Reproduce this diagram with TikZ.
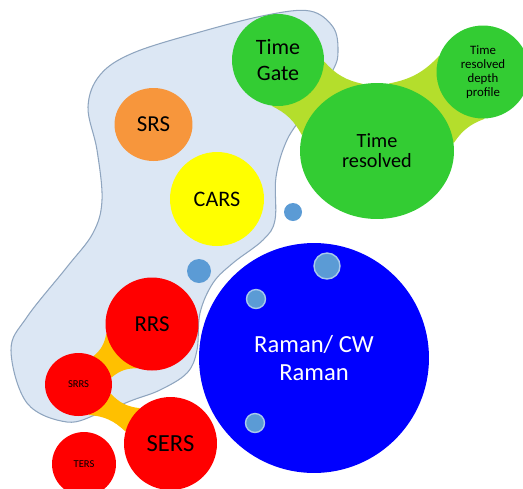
\documentclass[tikz,border=0pt]{standalone}
\usepackage{fontspec}
\setmainfont{Carlito}
\usetikzlibrary{backgrounds,shapes.geometric}

\definecolor{blobfill}{HTML}{DCE7F4}
\definecolor{blobline}{HTML}{8FA5BF}
\definecolor{timegreen}{HTML}{33CC33}
\definecolor{neckgreen}{HTML}{B4DE2C}
\definecolor{srsorange}{HTML}{F7963C}
\definecolor{carsyellow}{HTML}{FFFF00}
\definecolor{rrsred}{HTML}{FF0000}
\definecolor{neckorange}{HTML}{FFC000}
\definecolor{ramanblue}{HTML}{0000FF}
\definecolor{dotblue}{HTML}{5B9BD5}
\definecolor{dotrim}{HTML}{A8C9EC}

\begin{document}
\begin{tikzpicture}[
  x=0.02cm, y=-0.02cm,
  bubble/.style={circle, inner sep=0pt, align=center},
  oval/.style={ellipse, inner sep=0pt, align=center},
  dot/.style={circle, inner sep=0pt, fill=dotblue},
  rimdot/.style={dot, draw=dotrim, line width=0.8pt},
  neck/.style={fill=#1}
]
\useasboundingbox (0,0) rectangle (523,488);

% time-resolved group
\node[bubble, fill=timegreen, minimum size=1.84cm, font=\fontsize{12.5}{14.5}\selectfont] (timegate) at (278,60) {Time\\Gate};
\node[oval, fill=timegreen, minimum width=3.08cm, minimum height=2.72cm, font=\fontsize{11.5}{11.5}\selectfont] (timeres) at (377,151) {Time\\resolved};
\node[bubble, fill=timegreen, minimum size=1.86cm, font=\fontsize{7.3}{7.9}\selectfont] (depth) at (483,72) {Time\\resolved\\depth\\profile};

% nonlinear techniques
\node[oval, fill=srsorange, minimum width=1.56cm, minimum height=1.46cm, font=\fontsize{13}{15}\selectfont] (srs) at (153.5,124.5) {SRS};
\node[bubble, fill=carsyellow, minimum size=1.88cm, font=\fontsize{12.6}{15}\selectfont] (cars) at (217,199) {CARS};

% main technique
\node[bubble, fill=ramanblue, minimum size=4.6cm, text=white, font=\fontsize{14}{16}\selectfont] (raman) at (314,358) {Raman/ CW\\Raman};

% resonance / enhanced
\node[bubble, fill=rrsred, minimum size=1.86cm, font=\fontsize{13}{15}\selectfont] (rrs) at (152,324) {RRS};
\node[oval, fill=rrsred, minimum width=1.34cm, minimum height=1.26cm, font=\fontsize{6}{7}\selectfont] (srrs) at (78.5,384.5) {SRRS};
\node[bubble, fill=rrsred, minimum size=1.86cm, font=\fontsize{14}{16}\selectfont] (sers) at (170.5,443.5) {SERS};
\node[bubble, fill=rrsred, minimum size=1.28cm, font=\fontsize{6}{7}\selectfont] (ters) at (84,464) {TERS};

% small dots
\node[dot, minimum size=0.36cm] (dota) at (293,212) {};
\node[dot, minimum size=0.48cm] (dotb) at (199,271) {};
\node[rimdot, minimum size=0.52cm] (dotc) at (327,266) {};
\node[rimdot, minimum size=0.38cm] (dotd) at (256,299) {};
\node[rimdot, minimum size=0.38cm] (dote) at (255,423) {};

\begin{scope}[on background layer]
  % grouping area
  \draw[blobline, fill=blobfill, line width=0.6pt] plot[smooth cycle, tension=0.6] coordinates {
    (310,11) (333,27) (338,50) (333,70) (307,110) (287,140) (276,177)
    (275,220) (263,240) (233,263) (213,283) (200,313) (197,350) (187,373)
    (160,390) (133,400) (100,413) (67,422) (27,403) (11,350) (27,317)
    (67,267) (93,233) (102,200) (97,150) (88,107) (100,75) (133,53)
    (200,32) (267,15)};

  % necks
  \fill[neck=neckgreen] (timegate.262) to[bend left=18] (timeres.168) -- (timeres.102) to[bend left=18] (timegate.358) -- cycle;
  \fill[neck=neckgreen] (timeres.6) to[bend left=18] (depth.272) -- (depth.160) to[bend left=18] (timeres.80) -- cycle;
  \fill[neck=neckorange] (rrs.192) to[bend left=20] (srrs.62) -- (srrs.12) to[bend left=20] (rrs.251) -- cycle;
  \fill[neck=neckorange] (srrs.288) to[bend left=20] (sers.165) -- (sers.131) to[bend left=20] (srrs.344) -- cycle;
\end{scope}

\end{tikzpicture}
\end{document}
